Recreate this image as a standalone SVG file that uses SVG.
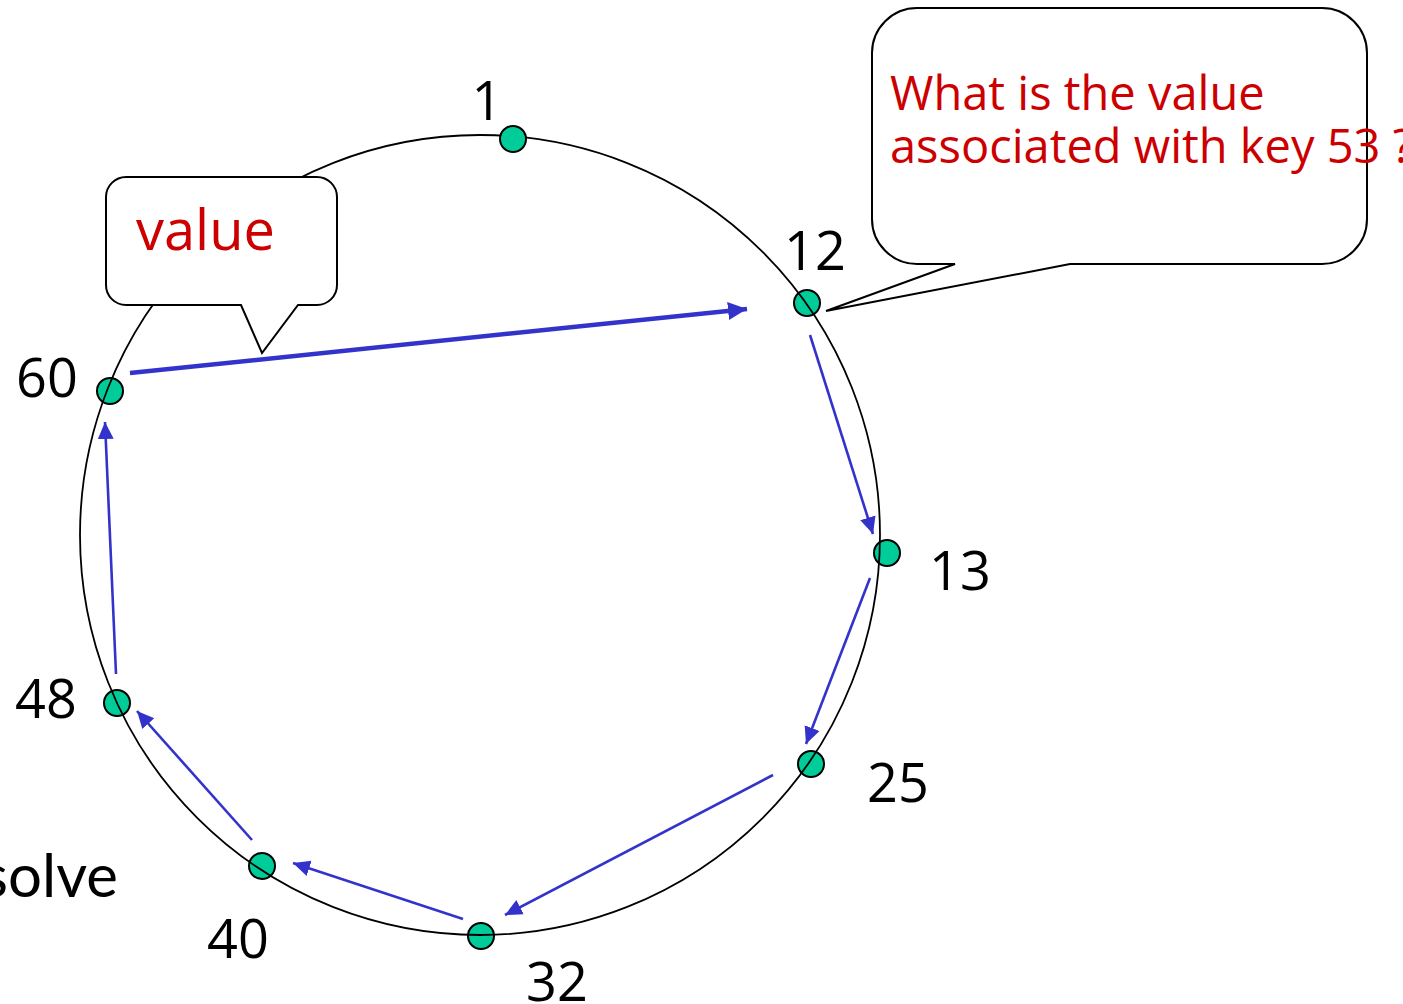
<svg xmlns="http://www.w3.org/2000/svg" width="1403" height="1004" viewBox="0 0 1403 1004">
<style>
.ring{fill:none;stroke:#000;stroke-width:1.8}
.dot{fill:#00CC99;stroke:#000;stroke-width:2}
.num{font-family:"Open Sans","Noto Sans",sans-serif;font-size:54px;fill:#000;text-anchor:middle}
.red{font-family:"Open Sans","Noto Sans",sans-serif;fill:#CC0000}
.callout{fill:#fff;stroke:#000;stroke-width:2;stroke-linejoin:miter}
.arr{stroke:#3333CC;stroke-width:2.6;fill:none;marker-end:url(#ah)}
.arrthick{stroke:#3333CC;stroke-width:4.5;fill:none;marker-end:url(#ah2)}
</style>
<defs>
<marker id="ah" markerUnits="userSpaceOnUse" markerWidth="18" markerHeight="18" refX="17" refY="8" orient="auto" viewBox="0 0 18 16">
<path d="M0,0 L17,8 L0,16 z" fill="#3333CC"/>
</marker>
<marker id="ah2" markerUnits="userSpaceOnUse" markerWidth="20" markerHeight="20" refX="19" refY="9" orient="auto" viewBox="0 0 20 18">
<path d="M0,0 L19,9 L0,18 z" fill="#3333CC"/>
</marker>
</defs>
<rect width="1403" height="1004" fill="#fff"/>

<g id="node-12"><circle class="dot" cx="807" cy="303" r="13"/><text class="num" x="815" y="270">12</text></g>
<g id="node-13"><circle class="dot" cx="887" cy="553" r="13"/><text class="num" x="960" y="590">13</text></g>
<g id="node-25"><circle class="dot" cx="811" cy="764" r="13"/><text class="num" x="898" y="802">25</text></g>
<g id="node-32"><circle class="dot" cx="481" cy="936" r="13"/><text class="num" x="557" y="1001">32</text></g>
<g id="node-40"><circle class="dot" cx="262" cy="866" r="13"/><text class="num" x="238" y="958">40</text></g>
<g id="node-48"><circle class="dot" cx="117" cy="703" r="13"/><text class="num" x="46" y="718">48</text></g>
<g id="node-60"><circle class="dot" cx="110" cy="391" r="13"/><text class="num" x="47" y="397">60</text></g>

<circle id="ring" class="ring" cx="480" cy="535" r="400"/>

<g id="node-1"><circle class="dot" cx="513" cy="139" r="13"/><text class="num" x="487" y="120">1</text></g>

<g id="callout-query">
<path class="callout" d="M917,8 H1322 A45,45 0 0 1 1367,53 V219 A45,45 0 0 1 1322,264 H1070 L826,311 L955,264 H917 A45,45 0 0 1 872,219 V53 A45,45 0 0 1 917,8 Z"/>
<text class="red" font-size="47" x="890" y="110">What is the value</text>
<text class="red" font-size="47" x="890" y="163">associated with key 53 ?</text>
</g>

<g id="callout-value">
<path class="callout" d="M126,177 H317 A20,20 0 0 1 337,197 V285 A20,20 0 0 1 317,305 H298 L262,353 L241,305 H126 A20,20 0 0 1 106,285 V197 A20,20 0 0 1 126,177 Z"/>
<text class="red" font-size="56" x="136" y="250">value</text>
</g>

<text id="solve" x="118" y="897" font-family="Lato,'Open Sans',sans-serif" font-size="60" text-anchor="end" fill="#000">solve</text>

<g id="connectors">
<line class="arrthick" x1="130" y1="373" x2="747" y2="309"/>
<line class="arr" x1="810" y1="335" x2="873" y2="534"/>
<line class="arr" x1="870" y1="578" x2="806" y2="744"/>
<line class="arr" x1="773" y1="775" x2="505" y2="915"/>
<line class="arr" x1="463" y1="919" x2="293" y2="863"/>
<line class="arr" x1="252" y1="840" x2="137" y2="711"/>
<line class="arr" x1="116" y1="674" x2="105" y2="422"/>
</g>
</svg>
